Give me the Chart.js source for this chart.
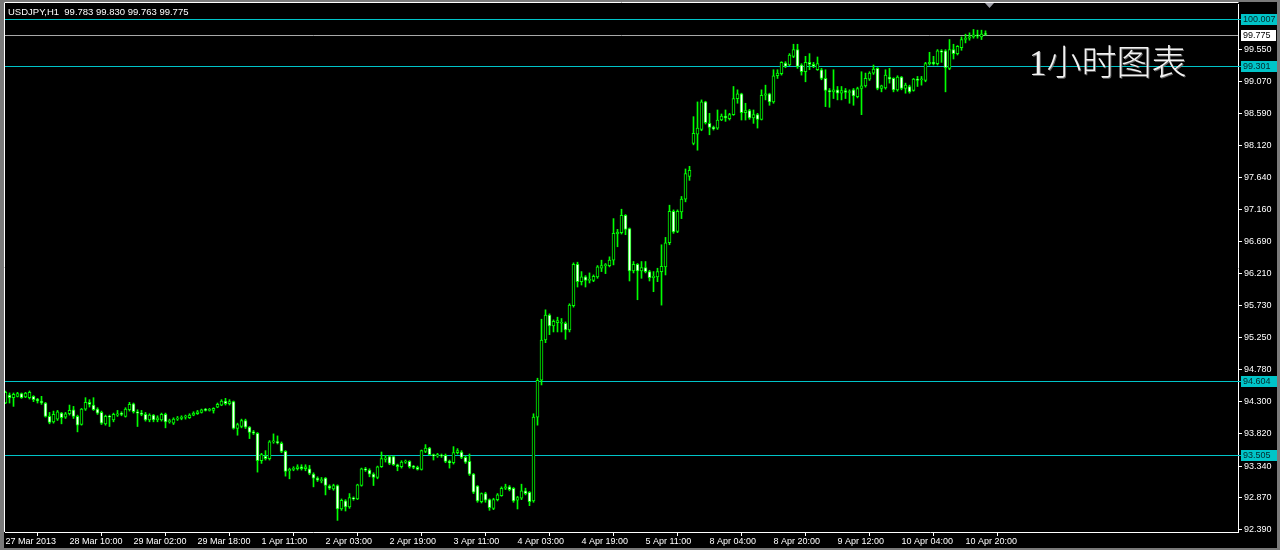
<!DOCTYPE html>
<html>
<head>
<meta charset="utf-8">
<script src="https://cdn.jsdelivr.net/npm/chart.js@4"></script>
<style>
  html, body { margin: 0; padding: 0; background: #000; }
  canvas { display: block; background: #000; }
</style>
</head>
<body>
<canvas id="chart" width="1280" height="550"></canvas>
<script>
// USDJPY H1 candles, 27 Mar 2013 -> 11 Apr 2013
const symbol = "USDJPY,H1";

const opens = [
  94.28, 94.40, 94.36, 94.38, 94.42, 94.37, 94.36, 94.38, 94.34, 94.31,
  94.28, 94.08, 94.00, 94.04, 94.13, 94.07, 94.12, 94.18, 94.08, 93.96,
  94.19, 94.29, 94.25, 94.19, 94.14, 93.97, 94.08, 94.03, 94.10, 94.12,
  94.08, 94.18, 94.27, 94.15, 94.13, 94.11, 94.03, 94.10, 94.03, 94.03,
  94.11, 94.00, 93.98, 94.04, 94.05, 94.07, 94.06, 94.10, 94.12, 94.14,
  94.18, 94.17, 94.17, 94.22, 94.25, 94.31, 94.27, 94.30, 93.90, 93.93,
  94.02, 93.92, 93.85, 93.83, 93.42, 93.49, 93.45, 93.70, 93.70, 93.68,
  93.56, 93.27, 93.29, 93.30, 93.33, 93.30, 93.30, 93.22, 93.16, 93.12,
  93.16, 93.04, 93.00, 93.05, 92.70, 92.82, 92.73, 92.86, 92.85, 93.05,
  93.30, 93.28, 93.22, 93.17, 93.33, 93.44, 93.48, 93.48, 93.36, 93.33,
  93.40, 93.41, 93.34, 93.32, 93.29, 93.56, 93.61, 93.51, 93.49, 93.50,
  93.50, 93.41, 93.39, 93.54, 93.55, 93.47, 93.41, 93.22, 93.04, 92.81,
  92.93, 92.84, 92.71, 92.84, 92.90, 93.01, 93.03, 93.01, 92.83, 92.86,
  92.97, 92.95, 92.82, 94.07, 94.62, 95.22, 95.59, 95.43, 95.48, 95.47,
  95.47, 95.37, 95.73, 96.35, 96.09, 96.16, 96.11, 96.11, 96.16, 96.29,
  96.33, 96.33, 96.41, 96.80, 96.82, 97.08, 96.88, 96.25, 96.35, 96.25,
  96.30, 96.24, 96.15, 96.16, 96.24, 96.31, 96.67, 97.14, 96.84, 97.13,
  97.32, 97.66, 98.15, 98.29, 98.36, 98.77, 98.45, 98.39, 98.38, 98.50,
  98.56, 98.52, 98.58, 98.82, 98.89, 98.61, 98.64, 98.53, 98.58, 98.51,
  98.87, 98.89, 98.77, 99.16, 99.19, 99.35, 99.32, 99.45, 99.55, 99.32,
  99.22, 99.36, 99.33, 99.25, 99.25, 99.12, 98.94, 98.92, 98.95, 98.90,
  98.94, 98.91, 98.95, 98.85, 98.97, 99.01, 99.11, 99.20, 99.27, 98.97,
  98.98, 99.14, 99.12, 98.95, 99.14, 98.97, 99.00, 98.94, 99.11, 99.10,
  99.09, 99.34, 99.36, 99.34, 99.53, 99.53, 99.27, 99.55, 99.49, 99.58,
  99.70, 99.72, 99.74, 99.77, 99.74, 99.783
];

const highs = [
  94.46, 94.43, 94.43, 94.44, 94.43, 94.44, 94.46, 94.39, 94.35, 94.38,
  94.29, 94.14, 94.16, 94.17, 94.14, 94.14, 94.25, 94.23, 94.10, 94.20,
  94.36, 94.33, 94.36, 94.21, 94.16, 94.10, 94.10, 94.13, 94.17, 94.15,
  94.21, 94.29, 94.28, 94.18, 94.17, 94.14, 94.12, 94.11, 94.09, 94.13,
  94.13, 94.04, 94.06, 94.08, 94.09, 94.10, 94.12, 94.15, 94.17, 94.19,
  94.20, 94.20, 94.21, 94.28, 94.33, 94.35, 94.33, 94.31, 93.98, 94.04,
  94.04, 93.93, 93.87, 93.84, 93.53, 93.57, 93.72, 93.82, 93.79, 93.70,
  93.57, 93.31, 93.33, 93.36, 93.36, 93.36, 93.35, 93.24, 93.18, 93.17,
  93.17, 93.06, 93.07, 93.06, 92.85, 92.84, 92.93, 92.88, 93.07, 93.31,
  93.32, 93.30, 93.24, 93.34, 93.55, 93.50, 93.50, 93.49, 93.37, 93.42,
  93.43, 93.42, 93.35, 93.34, 93.58, 93.66, 93.62, 93.52, 93.53, 93.52,
  93.52, 93.43, 93.63, 93.60, 93.57, 93.49, 93.52, 93.23, 93.05, 92.94,
  92.95, 92.85, 92.86, 92.93, 93.03, 93.07, 93.05, 93.02, 92.89, 93.07,
  93.01, 92.96, 94.12, 94.65, 95.53, 95.67, 95.61, 95.52, 95.56, 95.54,
  95.49, 95.76, 96.37, 96.38, 96.24, 96.18, 96.22, 96.19, 96.33, 96.41,
  96.36, 96.46, 97.03, 96.87, 97.17, 97.09, 96.89, 96.39, 96.36, 96.39,
  96.39, 96.26, 96.24, 96.29, 96.64, 96.75, 97.23, 97.16, 97.16, 97.36,
  97.77, 97.81, 98.55, 98.77, 98.80, 98.78, 98.60, 98.41, 98.65, 98.59,
  98.65, 98.60, 99.00, 98.95, 98.90, 98.75, 98.66, 98.65, 98.60, 98.95,
  99.02, 98.90, 99.25, 99.25, 99.37, 99.37, 99.49, 99.63, 99.63, 99.34,
  99.45, 99.49, 99.36, 99.44, 99.27, 99.25, 98.97, 99.25, 99.00, 99.00,
  98.97, 98.95, 98.97, 98.99, 99.22, 99.20, 99.22, 99.32, 99.28, 99.02,
  99.25, 99.27, 99.13, 99.16, 99.15, 99.05, 99.02, 99.12, 99.15, 99.15,
  99.36, 99.51, 99.45, 99.55, 99.55, 99.55, 99.70, 99.63, 99.61, 99.74,
  99.78, 99.80, 99.85, 99.84, 99.84, 99.830
];

const lows = [
  94.27, 94.28, 94.23, 94.37, 94.35, 94.36, 94.34, 94.30, 94.28, 94.26,
  94.07, 93.97, 93.98, 94.02, 93.97, 94.05, 94.10, 94.05, 93.85, 93.95,
  94.17, 94.22, 94.17, 94.11, 93.96, 93.95, 93.93, 94.00, 94.08, 94.09,
  94.07, 94.16, 94.13, 93.93, 94.09, 94.01, 94.00, 94.00, 94.00, 94.01,
  93.91, 93.98, 93.96, 94.02, 94.03, 94.04, 94.05, 94.09, 94.11, 94.13,
  94.16, 94.16, 94.13, 94.21, 94.24, 94.25, 94.25, 93.89, 93.80, 93.91,
  93.90, 93.75, 93.81, 93.25, 93.38, 93.43, 93.43, 93.68, 93.67, 93.54,
  93.19, 93.15, 93.27, 93.28, 93.28, 93.27, 93.21, 93.03, 93.11, 93.09,
  92.91, 92.99, 92.98, 92.53, 92.68, 92.67, 92.71, 92.83, 92.84, 93.04,
  93.26, 93.18, 93.05, 93.15, 93.32, 93.40, 93.36, 93.35, 93.27, 93.31,
  93.38, 93.31, 93.30, 93.28, 93.28, 93.54, 93.50, 93.43, 93.47, 93.47,
  93.39, 93.31, 93.37, 93.52, 93.45, 93.38, 93.20, 92.93, 92.80, 92.79,
  92.80, 92.68, 92.69, 92.82, 92.89, 92.99, 92.97, 92.80, 92.70, 92.84,
  92.91, 92.75, 92.80, 93.95, 94.55, 95.18, 95.30, 95.34, 95.34, 95.34,
  95.23, 95.34, 95.71, 96.01, 96.04, 96.01, 96.07, 96.09, 96.14, 96.24,
  96.21, 96.31, 96.34, 96.61, 96.80, 96.79, 96.10, 96.22, 95.82, 96.14,
  96.22, 96.10, 95.94, 96.09, 95.74, 96.19, 96.64, 96.81, 96.82, 97.03,
  97.28, 97.60, 98.13, 98.05, 98.34, 98.44, 98.28, 98.35, 98.36, 98.49,
  98.48, 98.50, 98.57, 98.75, 98.50, 98.50, 98.51, 98.45, 98.38, 98.50,
  98.80, 98.72, 98.75, 99.12, 99.17, 99.28, 99.31, 99.43, 99.27, 99.17,
  99.07, 99.25, 99.28, 99.24, 99.10, 98.70, 98.69, 98.82, 98.80, 98.80,
  98.82, 98.75, 98.72, 98.83, 98.58, 98.99, 99.09, 99.18, 98.95, 98.92,
  98.96, 99.05, 98.92, 98.93, 98.95, 98.90, 98.90, 98.93, 99.00, 99.02,
  99.07, 99.32, 99.32, 99.32, 99.36, 98.92, 99.25, 99.41, 99.47, 99.54,
  99.65, 99.69, 99.72, 99.72, 99.70, 99.763
];

const closes = [
  94.44, 94.36, 94.41, 94.42, 94.36, 94.43, 94.44, 94.33, 94.31, 94.28,
  94.08, 93.99, 94.11, 94.15, 94.06, 94.12, 94.17, 94.08, 93.95, 94.19,
  94.29, 94.26, 94.18, 94.13, 93.98, 94.08, 94.07, 94.11, 94.12, 94.11,
  94.19, 94.26, 94.15, 94.13, 94.11, 94.03, 94.10, 94.03, 94.06, 94.11,
  94.00, 94.02, 94.04, 94.05, 94.07, 94.07, 94.10, 94.13, 94.15, 94.18,
  94.17, 94.18, 94.20, 94.26, 94.31, 94.27, 94.30, 93.90, 93.96, 94.02,
  93.92, 93.84, 93.83, 93.42, 93.51, 93.45, 93.70, 93.70, 93.69, 93.56,
  93.26, 93.29, 93.30, 93.33, 93.30, 93.33, 93.23, 93.16, 93.13, 93.14,
  93.05, 93.01, 93.05, 92.70, 92.83, 92.73, 92.87, 92.85, 93.06, 93.30,
  93.28, 93.22, 93.17, 93.33, 93.45, 93.46, 93.38, 93.36, 93.33, 93.40,
  93.41, 93.33, 93.32, 93.29, 93.57, 93.61, 93.51, 93.49, 93.51, 93.49,
  93.41, 93.39, 93.54, 93.57, 93.47, 93.40, 93.22, 92.95, 92.82, 92.93,
  92.83, 92.72, 92.84, 92.91, 93.01, 93.03, 92.99, 92.82, 92.87, 92.97,
  92.93, 92.81, 94.07, 94.62, 95.22, 95.59, 95.43, 95.50, 95.51, 95.47,
  95.37, 95.74, 96.35, 96.09, 96.16, 96.11, 96.12, 96.17, 96.31, 96.33,
  96.34, 96.41, 96.81, 96.83, 97.08, 96.87, 96.25, 96.35, 96.25, 96.30,
  96.24, 96.15, 96.17, 96.24, 96.32, 96.67, 97.14, 96.83, 97.14, 97.32,
  97.70, 97.75, 98.30, 98.38, 98.77, 98.46, 98.39, 98.37, 98.50, 98.56,
  98.53, 98.58, 98.82, 98.89, 98.61, 98.64, 98.53, 98.58, 98.51, 98.87,
  98.89, 98.77, 99.16, 99.20, 99.36, 99.30, 99.47, 99.55, 99.30, 99.22,
  99.36, 99.33, 99.30, 99.34, 99.12, 98.94, 98.92, 98.95, 98.90, 98.94,
  98.91, 98.92, 98.86, 98.97, 99.01, 99.12, 99.20, 99.26, 98.97, 99.01,
  99.17, 99.11, 98.95, 99.14, 98.97, 99.02, 98.92, 99.11, 99.09, 99.11,
  99.34, 99.36, 99.34, 99.53, 99.51, 99.28, 99.55, 99.49, 99.60, 99.70,
  99.72, 99.74, 99.77, 99.75, 99.78, 99.775
];

// time labels every 16 bars
const tickLabels = [
  "27 Mar 2013", "28 Mar 10:00", "29 Mar 02:00", "29 Mar 18:00",
  "1 Apr 11:00", "2 Apr 03:00", "2 Apr 19:00", "3 Apr 11:00",
  "4 Apr 03:00", "4 Apr 19:00", "5 Apr 11:00", "8 Apr 04:00",
  "8 Apr 20:00", "9 Apr 12:00", "10 Apr 04:00", "10 Apr 20:00"
];
const tickEvery = 16;

const priceTicks = [
  92.39, 92.87, 93.34, 93.82, 94.30, 94.78, 95.25, 95.73,
  96.21, 96.69, 97.16, 97.64, 98.12, 98.59, 99.07, 99.55
];

// horizontal lines drawn on the chart + current bid
const levelLines = [100.007, 99.301, 94.604, 93.505];
const bidPrice = 99.775;
const caption = "1小时图表";

const LIME = "#00ff00";
const CYAN = "#00c4c8";

Chart.defaults.font.family = "'Liberation Sans', Arial, sans-serif";
Chart.defaults.font.size = 9;
Chart.defaults.color = "#ffffff";

const last = opens.length - 1;
const header = symbol + "  " + [opens[last], highs[last], lows[last], closes[last]]
  .map((v) => v.toFixed(3)).join(" ");

const wickData = opens.map((_, i) => ({ x: i, y: [lows[i], highs[i]] }));
const bodyData = opens.map((o, i) => ({ x: i, y: [o, closes[i]] }));
const bodyFill = opens.map((o, i) => (closes[i] >= o ? "#000000" : "#ffffff"));

//
const mtChrome = {
  id: "mtChrome",
  beforeDraw(chart) {
    const { ctx, width, height } = chart;
    ctx.save();
    ctx.fillStyle = "#000";
    ctx.fillRect(0, 0, width, height);
    // window frame
    ctx.fillStyle = "#7a7a7a";
    ctx.fillRect(0, 0, width, 2);
    ctx.fillRect(0, 0, 4, height);
    ctx.fillRect(width - 3, 0, 3, height);
    ctx.fillRect(0, height - 2, width, 2);
    ctx.restore();
  },
  beforeDatasetsDraw(chart) {
    const { ctx, chartArea } = chart;
    const y = chart.scales.y;
    ctx.save();
    ctx.lineWidth = 1;
    ctx.strokeStyle = "#a8a8a8";
    let py = Math.round(y.getPixelForValue(bidPrice)) + 0.5;
    ctx.beginPath();
    ctx.moveTo(chartArea.left, py);
    ctx.lineTo(chartArea.right, py);
    ctx.stroke();
    ctx.strokeStyle = CYAN;
    levelLines.forEach((v) => {
      py = Math.round(y.getPixelForValue(v)) + 0.5;
      ctx.beginPath();
      ctx.moveTo(chartArea.left, py);
      ctx.lineTo(chartArea.right + 3, py);
      ctx.stroke();
    });
    ctx.restore();
  },
  afterDraw(chart) {
    const { ctx, chartArea } = chart;
    const y = chart.scales.y;
    const x = chart.scales.x;
    ctx.save();

    // top / left border of the plot
    ctx.strokeStyle = "#ffffff";
    ctx.lineWidth = 1;
    ctx.beginPath();
    ctx.moveTo(4.5, chartArea.bottom);
    ctx.lineTo(4.5, 2.5);
    ctx.lineTo(chartArea.right + 0.5, 2.5);
    ctx.stroke();

    // price labels on the right axis
    ctx.font = "9px 'Liberation Sans', Arial, sans-serif";
    ctx.textBaseline = "middle";
    ctx.textAlign = "left";
    const boxX = chartArea.right + 3;
    const boxW = 36;
    levelLines.forEach((v) => {
      const py = Math.round(y.getPixelForValue(v));
      ctx.fillStyle = CYAN;
      ctx.fillRect(boxX, py - 5, boxW, 11);
      ctx.fillStyle = "#05282a";
      ctx.fillText(v.toFixed(3), boxX + 2, py + 0.5);
    });
    const pb = Math.round(y.getPixelForValue(bidPrice));
    ctx.fillStyle = "#ffffff";
    ctx.fillRect(boxX, pb - 5, boxW - 1, 11);
    ctx.fillStyle = "#000000";
    ctx.fillText(bidPrice.toFixed(3), boxX + 2, pb + 0.5);

    // chart shift marker
    const mx = x.getPixelForValue(opens.length);
    ctx.fillStyle = "#a0a0a8";
    ctx.beginPath();
    ctx.moveTo(mx - 4.5, 3);
    ctx.lineTo(mx + 4.5, 3);
    ctx.lineTo(mx, 8);
    ctx.closePath();
    ctx.fill();

    // header
    ctx.font = "9.5px 'Liberation Sans', Arial, sans-serif";
    ctx.fillStyle = "#ffffff";
    ctx.fillText(header, 8, 12);

    // caption
    ctx.font = "300 35px 'Liberation Serif', 'Noto Sans CJK SC', serif";
    ctx.textBaseline = "alphabetic";
    ctx.fillStyle = "#f2f2f2";
    ctx.shadowColor = "rgba(120,120,120,0.8)";
    ctx.shadowOffsetX = 1;
    ctx.shadowOffsetY = 1;
    ctx.fillText(caption, 1029, 75);
    ctx.restore();
  },
};

const chart = new Chart(document.getElementById("chart"), {
  type: "bar",
  data: {
    datasets: [
      {
        label: "wick",
        data: wickData,
        backgroundColor: LIME,
        borderWidth: 0,
        barThickness: 1,
        minBarLength: 1,
        grouped: false,
        order: 2,
      },
      {
        label: "body",
        data: bodyData,
        backgroundColor: bodyFill,
        borderColor: LIME,
        borderWidth: 1,
        borderSkipped: false,
        barThickness: 3,
        minBarLength: 1,
        grouped: false,
        order: 1,
      },
    ],
  },
  options: {
    responsive: false,
    animation: false,
    events: [],
    layout: { padding: { left: 5, top: 4, right: 0, bottom: 0 } },
    plugins: { legend: { display: false }, tooltip: { enabled: false } },
    scales: {
      x: {
        type: "linear",
        min: -0.125,
        max: 308.125,
        offset: false,
        grid: { drawOnChartArea: false, drawTicks: true, tickLength: 4, color: "#ffffff" },
        border: { display: true, color: "#ffffff" },
        ticks: {
          autoSkip: false,
          maxRotation: 0,
          align: "start",
          padding: 0,
          color: "#ffffff",
          font: { size: 9 },
          callback: (v) => tickLabels[Math.round(v / tickEvery)],
        },
        afterBuildTicks: (scale) => {
          scale.ticks = tickLabels.map((_, k) => ({ value: k * tickEvery }));
        },
        afterFit: (scale) => {
          scale.height = 18;
          scale.paddingLeft = 0;
          scale.paddingRight = 0;
        },
      },
      y: {
        position: "right",
        min: 92.357,
        max: 100.23,
        grid: { drawOnChartArea: false, drawTicks: true, tickLength: 4, color: "#ffffff" },
        border: { display: true, color: "#ffffff" },
        ticks: {
          autoSkip: false,
          padding: 2,
          color: "#ffffff",
          font: { size: 9 },
          callback: (v) => Number(v).toFixed(3),
        },
        afterBuildTicks: (scale) => {
          scale.ticks = priceTicks.map((v) => ({ value: v }));
        },
        afterFit: (scale) => {
          scale.width = 42;
          scale.paddingTop = 0;
          scale.paddingBottom = 0;
        },
      },
    },
  },
  plugins: [mtChrome],
});
</script>
</body>
</html>
